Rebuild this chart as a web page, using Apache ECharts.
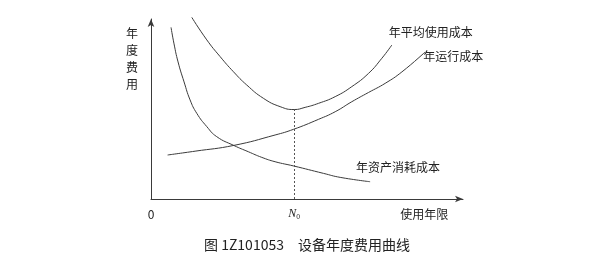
<!DOCTYPE html>
<html><head><meta charset="utf-8">
<script src="https://cdn.jsdelivr.net/npm/echarts@6/dist/echarts.min.js"></script>
<style>html,body{margin:0;padding:0;background:#fff}#c{width:604px;height:262px}</style>
</head><body><div id="c"></div>
<script>
// Series names
const seriesNames = ['年平均使用成本', '年运行成本', '年资产消耗成本'];
// Annual average use cost [useYears, cost]
const avgCost = [[2.85,99.9],[3.9,87.5],[4.83,78.3],[5.76,70.0],[6.69,62.7],[7.85,55.4],[9.02,50.8],[10,49.2],[10.77,50.4],[11.7,52.6],[12.87,56.3],[14.03,61.8],[15.2,69.1],[16.13,77.4],[16.83,84.7]];
// Annual operating cost
const runCost = [[1.16,24.2],[3.08,26.3],[5.8,29.5],[8.67,35.2],[9.95,38.3],[11.7,43.8],[12.87,48.0],[14.03,53.5],[15.2,58.6],[16.36,63.6],[17.53,69.9],[19.16,80.9]];
// Annual asset consumption cost
const assetCost = [[1.4,94.4],[1.61,85.3],[1.89,75.4],[2.31,64.4],[2.73,54.5],[3.2,47.1],[3.9,39.8],[4.59,34.3],[5.8,29.4],[6.8,26.0],[7.74,22.9],[8.67,20.5],[9.95,18.2],[12.05,14.1],[13.22,11.9],[15.31,9.5]];
// Optimal life N0 and minimal average cost
const n0 = 10;
const minCost = 49.2;
// X tick labels
const xTickValues = [0, n0, 19.1];
const xTickLabels = ['0', '{i|N}{s|0}', '使用年限'];
const yName = '年度费用';
const caption = '图 1Z101053　设备年度费用曲线';

const chart = echarts.init(document.getElementById('c'));
const FONT = '"Noto Sans CJK SC", "Noto Sans", sans-serif';
const lineColor = '#3a3a3a';
function mkSeries(name, data, offset) {
  return {
    name, type: 'line', data, smooth: 0.5, showSymbol: false, symbol: 'none', clip: false,
    lineStyle: { color: lineColor, width: 1 },
    emphasis: { disabled: true },
    endLabel: { show: true, formatter: '{a}', offset, color: '#222', fontSize: 12, fontFamily: FONT, distance: 0 }
  };
}
const s0 = mkSeries(seriesNames[0], avgCost, [-3, -13]);
s0.markLine = {
  silent: true, symbol: 'none', label: { show: false },
  lineStyle: { type: [2, 2], color: '#555', width: 1 },
  data: [[{ coord: [n0, 0] }, { coord: [n0, minCost] }]]
};
chart.setOption({
  animation: false,
  textStyle: { fontFamily: FONT },
  title: { text: caption, left: 199, top: 233, textStyle: { fontSize: 14, fontWeight: 'normal', color: '#222', fontFamily: FONT } },
  grid: { left: 151, right: 141, top: 19, bottom: 63 },
  xAxis: {
    type: 'value', min: 0, max: 21.8,
    axisLine: { lineStyle: { color: lineColor, width: 1 }, symbol: ['none', 'arrow'], symbolSize: [5, 8] },
    splitLine: { show: false }, axisTick: { show: false },
    axisLabel: {
      customValues: xTickValues, margin: 9, color: '#222', fontSize: 12,
      formatter: function (v) { const i = xTickValues.indexOf(v); return i >= 0 ? xTickLabels[i] : ''; },
      rich: {
        i: { fontStyle: 'italic', fontSize: 12, fontFamily: 'Liberation Serif', color: '#222' },
        s: { fontSize: 7, color: '#222', padding: [5, 0, 0, 0], verticalAlign: 'bottom' }
      }
    }
  },
  yAxis: {
    type: 'value', min: 0, max: 99,
    name: yName.split('').join('\n'), nameLocation: 'end', nameGap: -6,
    nameTextStyle: { align: 'right', verticalAlign: 'top', padding: [0, 13, 0, 0], lineHeight: 17, fontSize: 12, color: '#222' },
    axisLine: { show: true, lineStyle: { color: lineColor, width: 1 }, symbol: ['none', 'arrow'], symbolSize: [5, 8] },
    splitLine: { show: false }, axisTick: { show: false }, axisLabel: { show: false }
  },
  series: [s0, mkSeries(seriesNames[1], runCost, [-2, 5]), mkSeries(seriesNames[2], assetCost, [-14, -14])]
});
</script></body></html>
